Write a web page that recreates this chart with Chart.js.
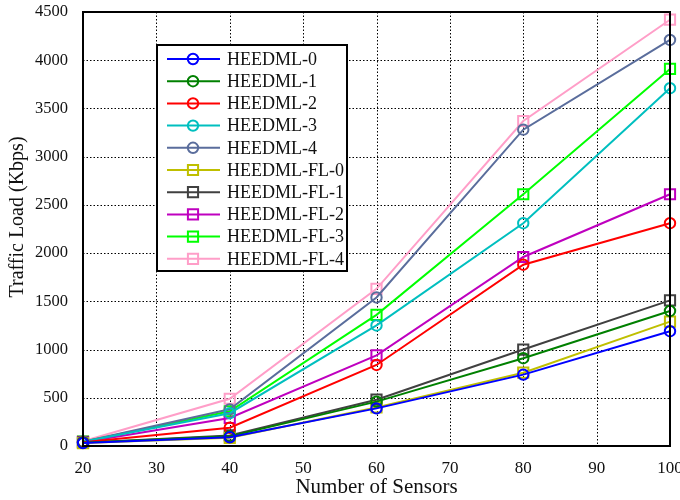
<!DOCTYPE html>
<html>
<head>
<meta charset="utf-8">
<script src="https://cdn.jsdelivr.net/npm/chart.js@4/dist/chart.umd.min.js"></script>
<style>
  html, body { margin: 0; padding: 0; background: #fff; }
  #wrap { width: 680px; height: 500px; }
</style>
</head>
<body>
<div id="wrap"><canvas id="loadChart" width="680" height="500"></canvas></div>
<script>
const sensors = [20, 40, 60, 80, 100];
const heedml0 = [30, 90, 390, 740, 1190];
const heedml1 = [35, 100, 460, 910, 1400];
const heedml2 = [40, 190, 840, 1880, 2310];
const heedml3 = [45, 340, 1250, 2310, 3710];
const heedml4 = [45, 380, 1540, 3280, 4210];
const heedmlFl0 = [30, 85, 400, 760, 1290];
const heedmlFl1 = [35, 110, 480, 1000, 1510];
const heedmlFl2 = [40, 290, 940, 1960, 2610];
const heedmlFl3 = [45, 360, 1360, 2610, 3910];
const heedmlFl4 = [50, 490, 1630, 3370, 4420];

const xTitle = 'Number of Sensors';
const yTitle = 'Traffic Load (Kbps)';

const series = [
  { label: 'HEEDML-0', data: heedml0, color: '#0000ff', shape: 'circle' },
  { label: 'HEEDML-1', data: heedml1, color: '#008000', shape: 'circle' },
  { label: 'HEEDML-2', data: heedml2, color: '#ff0000', shape: 'circle' },
  { label: 'HEEDML-3', data: heedml3, color: '#00bfbf', shape: 'circle' },
  { label: 'HEEDML-4', data: heedml4, color: '#5a6d9c', shape: 'circle' },
  { label: 'HEEDML-FL-0', data: heedmlFl0, color: '#bfbf00', shape: 'rect' },
  { label: 'HEEDML-FL-1', data: heedmlFl1, color: '#404040', shape: 'rect' },
  { label: 'HEEDML-FL-2', data: heedmlFl2, color: '#bf00bf', shape: 'rect' },
  { label: 'HEEDML-FL-3', data: heedmlFl3, color: '#00ff00', shape: 'rect' },
  { label: 'HEEDML-FL-4', data: heedmlFl4, color: '#ff9ec8', shape: 'rect' }
];

const serif = '"Liberation Serif", "Times New Roman", serif';
const ink = '#111';

function pointSize(shape) {
  return shape === 'rect' ? 7.2 : 5.2;
}

// dotted grid at every tick, drawn under the lines
const dottedGrid = {
  id: 'dottedGrid',
  beforeDatasetsDraw(chart) {
    const a = chart.chartArea;
    const ctx = chart.ctx;
    const xs = chart.scales.x;
    const ys = chart.scales.y;
    ctx.save();
    ctx.strokeStyle = '#000';
    ctx.lineWidth = 1;
    ctx.setLineDash([1.5, 2]);
    ctx.beginPath();
    xs.ticks.forEach((t) => {
      const px = Math.round(xs.getPixelForValue(t.value)) + 0.5;
      ctx.moveTo(px, a.top);
      ctx.lineTo(px, a.bottom);
    });
    ys.ticks.forEach((t) => {
      const py = Math.round(ys.getPixelForValue(t.value)) + 0.5;
      ctx.moveTo(a.left, py);
      ctx.lineTo(a.right, py);
    });
    ctx.stroke();
    ctx.restore();
  }
};

// box around the plot plus the two axis titles
const frame = {
  id: 'frame',
  afterDatasetsDraw(chart) {
    const a = chart.chartArea;
    const ctx = chart.ctx;
    ctx.save();
    ctx.strokeStyle = '#000';
    ctx.lineWidth = 2;
    ctx.strokeRect(a.left, a.top, a.right - a.left, a.bottom - a.top);
    ctx.fillStyle = ink;
    ctx.textAlign = 'center';
    ctx.textBaseline = 'middle';
    ctx.font = '21px ' + serif;
    ctx.fillText(xTitle, (a.left + a.right) / 2, 487);
    ctx.translate(18, 217);
    ctx.rotate(-Math.PI / 2);
    ctx.font = '20px ' + serif;
    ctx.fillText(yTitle, 0, 0);
    ctx.restore();
  }
};

// legend box in the upper left of the plot
const boxLegend = {
  id: 'boxLegend',
  afterDraw(chart) {
    const ctx = chart.ctx;
    const left = 157, top = 45, width = 190, height = 226;
    ctx.save();
    ctx.fillStyle = '#fff';
    ctx.fillRect(left, top, width, height);
    ctx.strokeStyle = '#000';
    ctx.lineWidth = 2;
    ctx.strokeRect(left, top, width, height);
    ctx.font = '18px ' + serif;
    ctx.textBaseline = 'middle';
    series.forEach((s, i) => {
      const y = 59 + i * 22.2;
      ctx.strokeStyle = s.color;
      ctx.lineWidth = 2;
      ctx.beginPath();
      ctx.moveTo(167, y);
      ctx.lineTo(220, y);
      ctx.stroke();
      ctx.fillStyle = 'rgba(0,0,0,0)';
      Chart.helpers.drawPoint(ctx, {
        pointStyle: s.shape,
        radius: pointSize(s.shape),
        borderWidth: 2
      }, 193, y);
      ctx.fillStyle = ink;
      ctx.fillText(s.label, 227, y + 1);
    });
    ctx.restore();
  }
};

new Chart(document.getElementById('loadChart'), {
  type: 'line',
  data: {
    datasets: series.map((s) => ({
      label: s.label,
      data: s.data.map((v, i) => ({ x: sensors[i], y: v })),
      borderColor: s.color,
      backgroundColor: 'rgba(0,0,0,0)',
      borderWidth: 2,
      pointStyle: s.shape,
      pointRadius: pointSize(s.shape),
      pointBorderWidth: 2,
      pointBorderColor: s.color,
      pointBackgroundColor: 'rgba(0,0,0,0)',
      tension: 0,
      clip: false
    }))
  },
  options: {
    responsive: false,
    animation: false,
    layout: { padding: { top: 12, right: 10, left: 0, bottom: 0 } },
    plugins: {
      legend: { display: false },
      tooltip: { enabled: false }
    },
    scales: {
      x: {
        type: 'linear',
        min: 20,
        max: 100,
        afterFit: (scale) => {
          scale.height = 54;
          scale.paddingRight = 0;
        },
        ticks: {
          stepSize: 10,
          color: ink,
          padding: 4,
          font: { family: serif, size: 17 },
          callback: (v) => String(v)
        },
        grid: { display: false },
        border: { display: false }
      },
      y: {
        min: 0,
        max: 4500,
        afterFit: (scale) => {
          scale.width = 83;
          scale.paddingTop = 0;
        },
        ticks: {
          stepSize: 500,
          color: ink,
          padding: 7,
          font: { family: serif, size: 16.5 },
          callback: (v) => String(v)
        },
        grid: { display: false },
        border: { display: false }
      }
    }
  },
  plugins: [dottedGrid, frame, boxLegend]
});
</script>
</body>
</html>
